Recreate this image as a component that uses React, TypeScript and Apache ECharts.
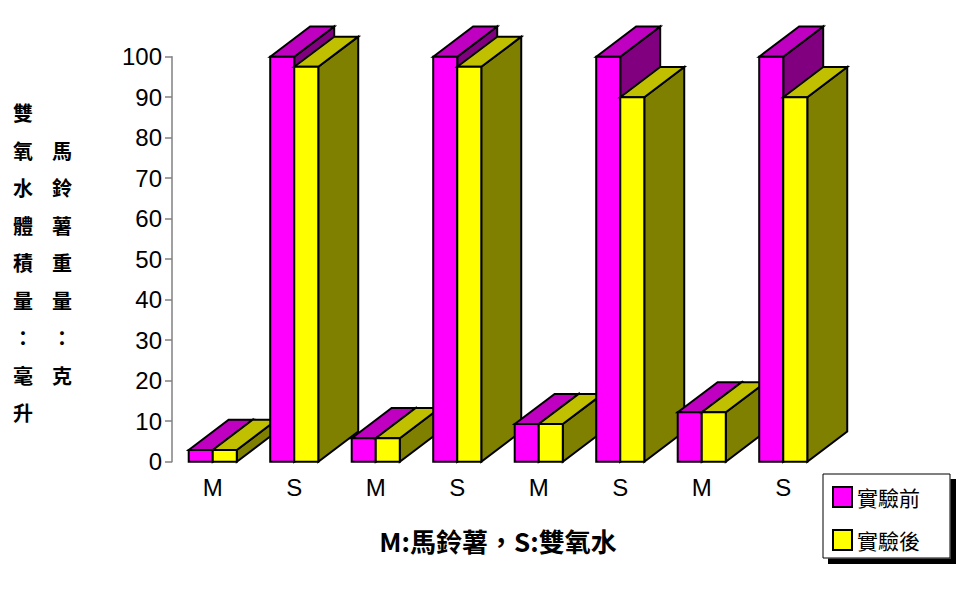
import React, { useEffect, useRef } from "react";
import * as echarts from "echarts";

const categories = ["M", "S", "M", "S", "M", "S", "M", "S"];
const beforeValues = [2.9, 100, 5.8, 100, 9.3, 100, 12.2, 100];
const afterValues = [2.9, 97.5, 5.8, 97.5, 9.3, 90, 12.2, 90];
const seriesNames = ["實驗前", "實驗後"];
const yTicks = { min: 0, max: 100, interval: 10 };
const yTitleLeft = "雙\n氧\n水\n體\n積\n量\n：\n毫\n升";
const yTitleRight = "馬\n鈴\n薯\n重\n量\n：\n克";
const xTitle = "M:馬鈴薯，S:雙氧水";

const palettes = [
  { front: "#FF00FF", top: "#C000C0", side: "#800080" },
  { front: "#FFFF00", top: "#C0C000", side: "#808000" },
];

function makeRender(si: number) {
  const pal = palettes[si];
  return (params: any, api: any) => {
    const idx = api.value(0);
    const val = api.value(1);
    const topPt = api.coord([idx, val]);
    const basePt = api.coord([idx, 0]);
    const band = api.size([1, 0])[0];
    const w = band * 0.295;
    const dx = band * 0.49;
    const dy = -band * 0.37;
    const x0 = topPt[0] - w + si * w;
    const x1 = x0 + w;
    const yt = topPt[1];
    const yb = basePt[1];
    const base = idx * 10 + si * 4;
    const st = (fill: string) => ({ fill, stroke: "#000", lineWidth: 2, lineJoin: "miter" });
    return {
      type: "group",
      children: [
        {
          type: "polygon",
          z2: base + 1,
          shape: { points: [[x1, yt], [x1 + dx, yt + dy], [x1 + dx, yb + dy], [x1, yb]] },
          style: st(pal.side),
        },
        {
          type: "polygon",
          z2: base + 2,
          shape: { points: [[x0, yt], [x0 + dx, yt + dy], [x1 + dx, yt + dy], [x1, yt]] },
          style: st(pal.top),
        },
        {
          type: "polygon",
          z2: base + 3,
          shape: { points: [[x0, yt], [x1, yt], [x1, yb], [x0, yb]] },
          style: st(pal.front),
        },
      ],
    };
  };
}

const legendBase = {
  orient: "vertical",
  left: 832,
  z: 5,
  icon: "rect",
  itemWidth: 19,
  itemHeight: 20,
  padding: 0,
  itemStyle: { borderColor: "#000", borderWidth: 2 },
  textStyle: { fontSize: 21, color: "#000", fontFamily: "Noto Sans CJK TC" },
};

export default function App() {
  const ref = useRef<HTMLDivElement>(null);
  useEffect(() => {
    if (!ref.current) return;
    const chart = echarts.init(ref.current, null, { renderer: "svg" });
    const valueSets = [beforeValues, afterValues];
    chart.setOption({
      animation: false,
      backgroundColor: "#fff",
      grid: { left: 172, right: 149, top: 56.7, bottom: 128.3, containLabel: false },
      xAxis: {
        type: "category",
        data: categories,
        axisLine: { show: false },
        axisTick: { show: false },
        splitLine: { show: false },
        axisLabel: { fontSize: 24, color: "#000", margin: 14, fontFamily: "Liberation Sans" },
      },
      yAxis: {
        type: "value",
        min: yTicks.min,
        max: yTicks.max,
        interval: yTicks.interval,
        splitLine: { show: false },
        axisLine: { show: true, lineStyle: { color: "#808080", width: 1.5 } },
        axisTick: { show: true, length: 7, lineStyle: { color: "#808080", width: 1.5 } },
        axisLabel: { fontSize: 24, color: "#000", margin: 10, fontFamily: "Liberation Sans" },
      },
      legend: [
        { ...legendBase, data: [seriesNames[0]], top: 486 },
        { ...legendBase, data: [seriesNames[1]], top: 529 },
      ],
      graphic: [
        {
          type: "rect",
          z: 3,
          shape: { x: 823, y: 474, width: 127, height: 84 },
          style: { fill: "#fff", stroke: "#000", lineWidth: 1 },
        },
        {
          type: "polygon",
          z: 3,
          shape: {
            points: [[950.5, 479], [956, 479], [956, 564], [828, 564], [828, 558.5], [950.5, 558.5]],
          },
          style: { fill: "#000" },
        },
        {
          type: "text",
          x: 23,
          y: 112.5 - 18.75,
          style: {
            text: yTitleLeft,
            fontSize: 20,
            fontWeight: "bold",
            lineHeight: 37.5,
            fontFamily: "Noto Sans CJK TC",
            fill: "#000",
            align: "center",
            verticalAlign: "top",
          },
        },
        {
          type: "text",
          x: 62,
          y: 150 - 18.75,
          style: {
            text: yTitleRight,
            fontSize: 20,
            fontWeight: "bold",
            lineHeight: 37.5,
            fontFamily: "Noto Sans CJK TC",
            fill: "#000",
            align: "center",
            verticalAlign: "top",
          },
        },
        {
          type: "text",
          x: 498,
          y: 540,
          style: {
            text: xTitle,
            fontSize: 26,
            fontWeight: "bold",
            fontFamily: "Noto Sans CJK TC",
            fill: "#000",
            align: "center",
            verticalAlign: "middle",
          },
        },
      ],
      series: seriesNames.map((name, si) => ({
        name,
        type: "custom",
        coordinateSystem: "cartesian2d",
        clip: false,
        itemStyle: { color: palettes[si].front },
        encode: { x: 0, y: 1 },
        renderItem: makeRender(si),
        data: categories.map((c, i) => [i, valueSets[si][i]]),
      })),
    });
    return () => chart.dispose();
  }, []);
  return (
    <div
      ref={ref}
      style={{ position: "fixed", left: 0, top: 0, width: 973, height: 590, background: "#fff" }}
    />
  );
}
